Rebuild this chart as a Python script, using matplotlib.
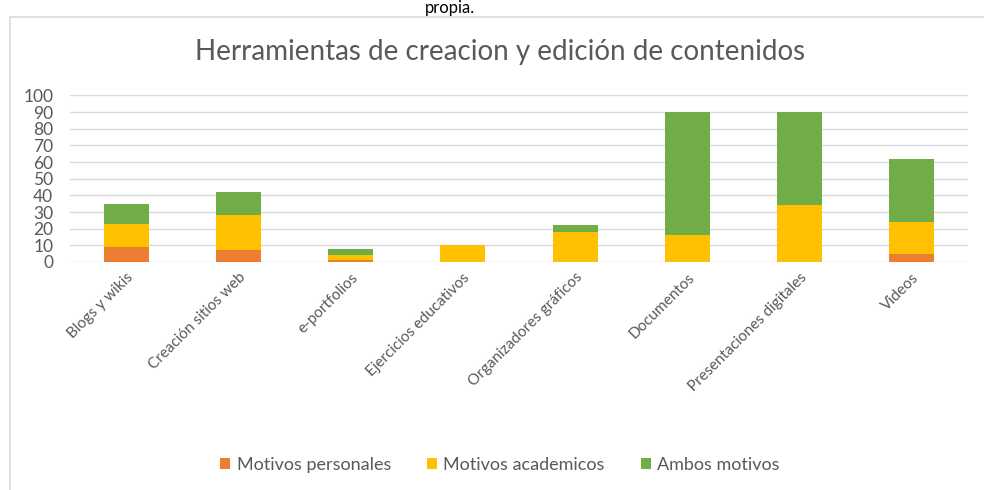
import matplotlib.pyplot as plt
import numpy as np
from matplotlib.patches import Rectangle

plt.rcParams['font.family'] = ['Lato', 'DejaVu Sans']

categories = ['Blogs y wikis', 'Creación sitios web', 'e-portfolios', 'Ejercicios educativos',
              'Organizadores gráficos', 'Documentos', 'Presentaciones digitales', 'Videos']
personales = [9, 7, 1, 0, 0, 0, 0, 5]
academicos = [14, 21, 3, 10, 18, 16, 34, 19]
ambos = [12, 14, 4, 0, 4, 74, 56, 38]

series = [('Motivos personales', personales, '#ED7D31'),
          ('Motivos academicos', academicos, '#FFC000'),
          ('Ambos motivos', ambos, '#70AD47')]

W, H = 984, 490
fig = plt.figure(figsize=(W / 100, H / 100), dpi=100)

# chart frame
fig.patches.append(Rectangle((10 / W, -0.1), 1.0, 1 - 17 / H + 0.1, transform=fig.transFigure,
                             facecolor='white', edgecolor='#D9D9D9', linewidth=1.2, zorder=-1))

fig.text(450 / W, 1.0, 'propia.', ha='center', va='top', fontsize=12, color='#000000')
fig.text(500 / W, 1 - 52 / H, 'Herramientas de creacion y edición de contenidos',
         ha='center', va='center', fontsize=20, color='#595959')

ax = fig.add_axes([70 / W, 1 - 262 / H, (968 - 70) / W, (262 - 95.5) / H])
x = np.arange(len(categories))
bottom = np.zeros(len(categories))
for name, vals, col in series:
    ax.bar(x, vals, width=0.4, bottom=bottom, color=col, label=name, zorder=3)
    bottom += np.array(vals)

ax.set_xlim(-0.5, len(categories) - 0.5)
ax.set_ylim(0, 100)
ax.set_yticks(np.arange(0, 101, 10))
ax.grid(axis='y', color='#D9D9D9', linewidth=1, zorder=0)
ax.set_axisbelow(True)
for s in ax.spines.values():
    s.set_visible(False)
ax.tick_params(axis='both', length=0, colors='#595959')
ax.tick_params(axis='y', pad=12, labelsize=12.5)
ax.set_xticks(x)
ax.set_xticklabels(categories, rotation=45, ha='right', rotation_mode='anchor', fontsize=11)
ax.tick_params(axis='x', pad=6)

handles, labels = ax.get_legend_handles_labels()
fig.legend(handles, labels, loc='center', bbox_to_anchor=(500 / W, 1 - 465 / H), ncol=3,
           frameon=False, fontsize=13, handlelength=0.55, handleheight=0.55,
           handletextpad=0.35, columnspacing=2.0, labelcolor='#595959')

fig.savefig('out.png', dpi=100, facecolor='white')
